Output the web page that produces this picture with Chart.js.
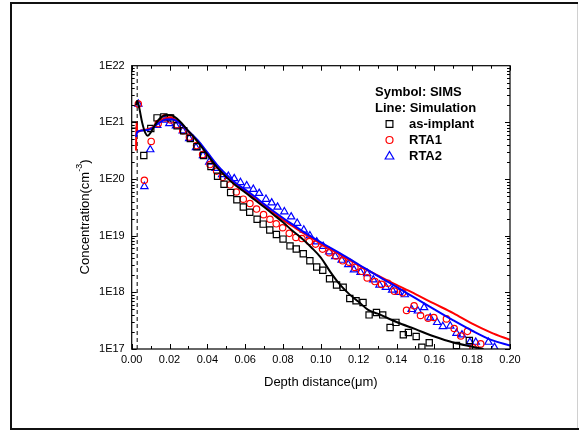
<!DOCTYPE html>
<html>
<head>
<meta charset="utf-8">
<script src="https://cdn.jsdelivr.net/npm/chart.js@4.4.1/dist/chart.umd.min.js"></script>
<style>
    html, body { margin: 0; padding: 0; background: #fff; }
</style>
</head>
<body>
<canvas id="profileChart" width="579" height="430"></canvas>
<script>
// 축 눈금
const xTickValues = [0, 0.02, 0.04, 0.06, 0.08, 0.10, 0.12, 0.14, 0.16, 0.18, 0.20];
const xTickLabels = ['0.00', '0.02', '0.04', '0.06', '0.08', '0.10', '0.12', '0.14', '0.16', '0.18', '0.20'];
const yTickValues = [1e17, 1e18, 1e19, 1e20, 1e21, 1e22];
const yTickLabels = ['1E17', '1E18', '1E19', '1E20', '1E21', '1E22'];

const seriesNames = ['as-implant', 'RTA1', 'RTA2'];
const legendHeader = ['Symbol: SIMS', 'Line: Simulation'];

// SIMS (symbols)
const asImplantX = [0.0012, 0.0064, 0.0101, 0.0134, 0.017, 0.0205, 0.024, 0.0275, 0.031, 0.0345,
    0.038, 0.0419, 0.0454, 0.0488, 0.0523, 0.0556, 0.059, 0.0624, 0.0663, 0.0695,
    0.073, 0.0765, 0.08, 0.0837, 0.087, 0.0907, 0.0942, 0.0978, 0.101, 0.1046,
    0.1083, 0.1118, 0.1153, 0.1186, 0.1223, 0.1255, 0.1294, 0.1327, 0.1366, 0.1397,
    0.1436, 0.1463, 0.1504, 0.1534, 0.1573, 0.1717, 0.1785];
const asImplantY = [9e20, 2.6e20, 7.8e20, 1.2e21, 1.25e21, 1.2e21, 8.7e20, 7.1e20, 5.2e20, 3.7e20,
    2.6e20, 1.66e20, 1.12e20, 8.1e19, 5.8e19, 4.3e19, 3.2e19, 2.6e19, 1.95e19, 1.6e19,
    1.26e19, 1.05e19, 8.7e18, 6.6e18, 5.8e18, 4.8e18, 3.6e18, 2.8e18, 2.45e18, 1.74e18,
    1.35e18, 1.23e18, 7.8e17, 7.1e17, 6.6e17, 4.0e17, 4.4e17, 4.0e17, 2.4e17, 2.95e17,
    1.78e17, 1.95e17, 1.66e17, 1.07e17, 1.29e17, 1.15e17, 1.41e17];

const rta1X = [0.0035, 0.0067, 0.0103, 0.014, 0.0176, 0.0206, 0.024, 0.027, 0.0305, 0.0343,
    0.0375, 0.0414, 0.0449, 0.0481, 0.052, 0.0553, 0.059, 0.0625, 0.066, 0.0697,
    0.0731, 0.0764, 0.0798, 0.0833, 0.0868, 0.0900, 0.0939, 0.0972, 0.1009, 0.1044,
    0.108, 0.1115, 0.115, 0.118, 0.1215, 0.1245, 0.1286, 0.1321, 0.1354, 0.1389,
    0.1432, 0.1453, 0.1493, 0.1527, 0.1567, 0.1597, 0.1664, 0.1705, 0.174, 0.1775,
    0.1805, 0.1845];
const rta1Y = [2.1e21, 9.5e19, 4.6e20, 9.5e20, 1.2e21, 1.1e21, 9.1e20, 7.1e20, 5.5e20, 3.9e20,
    2.7e20, 1.8e20, 1.38e20, 1.07e20, 7.9e19, 5.9e19, 4.4e19, 3.7e19, 2.95e19, 2.35e19,
    1.95e19, 1.62e19, 1.38e19, 1.1e19, 9.3e18, 8.9e18, 7.9e18, 7.1e18, 5.8e18, 5.0e18,
    4.4e18, 3.6e18, 3.4e18, 2.75e18, 2.35e18, 1.8e18, 1.55e18, 1.38e18, 1.45e18, 1.05e18,
    9.8e17, 4.8e17, 5.8e17, 3.9e17, 3.5e17, 3.6e17, 3.4e17, 2.3e17, 1.7e17, 2.05e17,
    1.05e17, 1.23e17];

const rta2X = [0.0035, 0.0067, 0.0098, 0.0135, 0.0176, 0.0199, 0.0234, 0.027, 0.0304, 0.034,
    0.0377, 0.041, 0.0444, 0.0478, 0.0511, 0.0542, 0.0575, 0.0608, 0.0643, 0.0674,
    0.071, 0.074, 0.0771, 0.0807, 0.0843, 0.0875, 0.091, 0.0942, 0.0978, 0.1012,
    0.1044, 0.1076, 0.111, 0.1145, 0.1175, 0.121, 0.1245, 0.1277, 0.131, 0.1344,
    0.1377, 0.1411, 0.1444, 0.148, 0.1513, 0.1546, 0.1578, 0.1615, 0.1645, 0.1684,
    0.1717, 0.1746, 0.1788, 0.1819, 0.1886, 0.1918];
const rta2Y = [2.1e21, 7.4e19, 3.3e20, 8.9e20, 1.1e21, 9.5e20, 8.7e20, 7.1e20, 5.2e20, 3.6e20,
    2.6e20, 2.0e20, 1.55e20, 1.2e20, 1.12e20, 1.02e20, 8.7e19, 7.6e19, 6.6e19, 5.6e19,
    4.4e19, 3.8e19, 3.2e19, 2.65e19, 2.15e19, 1.66e19, 1.26e19, 1.0e19, 7.8e18, 6.5e18,
    5.2e18, 4.3e18, 3.7e18, 3.1e18, 2.5e18, 2.25e18, 2.15e18, 1.66e18, 1.35e18, 1.23e18,
    1.1e18, 1.0e18, 9.1e17, 5.0e17, 4.7e17, 5.4e17, 3.55e17, 2.95e17, 2.5e17, 2.55e17,
    1.9e17, 1.78e17, 1.32e17, 1.32e17, 1.32e17, 1.07e17];

// Simulation (lines)
const simImplantX = [0.0024, 0.0029, 0.004, 0.0055, 0.0072, 0.0085, 0.01, 0.012, 0.015, 0.0185,
    0.021, 0.025, 0.03, 0.035, 0.04, 0.045, 0.05, 0.055, 0.06, 0.065,
    0.07, 0.075, 0.08, 0.085, 0.09, 0.095, 0.1, 0.105, 0.11, 0.115,
    0.12, 0.125, 0.13, 0.14, 0.15, 0.16, 0.17, 0.18, 0.186];
const simImplantY = [2.0e21, 2.4e21, 1.8e21, 1.0e21, 6.5e20, 5.8e20, 6.6e20, 8.6e20, 1.18e21, 1.35e21,
    1.33e21, 1.08e21, 7.0e20, 4.5e20, 2.7e20, 1.62e20, 1.08e20, 7.7e19, 5.8e19, 4.3e19,
    3.2e19, 2.35e19, 1.72e19, 1.22e19, 8.9e18, 6.2e18, 4.1e18, 2.3e18, 1.38e18, 9.3e17,
    6.8e17, 4.9e17, 4.2e17, 3.0e17, 2.24e17, 1.66e17, 1.3e17, 1.1e17, 1.0e17];

const simRta1X = [0.0023, 0.0025, 0.003, 0.005, 0.008, 0.011, 0.014, 0.0175, 0.0205, 0.025,
    0.03, 0.035, 0.04, 0.045, 0.05, 0.055, 0.06, 0.065, 0.07, 0.075,
    0.08, 0.085, 0.09, 0.095, 0.1, 0.11, 0.12, 0.13, 0.14, 0.15,
    0.16, 0.17, 0.18, 0.19, 0.2];
const simRta1Y = [3.2e20, 1.0e21, 6.8e20, 7.2e20, 7.5e20, 8.2e20, 1.0e21, 1.17e21, 1.2e21, 1.0e21,
    6.9e20, 4.6e20, 2.8e20, 1.7e20, 1.15e20, 8.1e19, 6.2e19, 4.6e19, 3.4e19, 2.5e19,
    1.9e19, 1.48e19, 1.15e19, 9.1e18, 7.2e18, 4.7e18, 3.0e18, 2.0e18, 1.35e18, 9.3e17,
    6.3e17, 4.3e17, 2.8e17, 1.95e17, 1.45e17];

const simRta2X = [0.0023, 0.003, 0.006, 0.01, 0.014, 0.018, 0.021, 0.025, 0.03, 0.035,
    0.04, 0.045, 0.05, 0.055, 0.06, 0.065, 0.07, 0.075, 0.08, 0.085,
    0.09, 0.095, 0.1, 0.11, 0.12, 0.13, 0.14, 0.15, 0.16, 0.17,
    0.18, 0.19, 0.2];
const simRta2Y = [5.5e20, 6.8e20, 7.2e20, 7.6e20, 9.6e20, 1.12e21, 1.13e21, 9.9e20, 7.0e20, 4.8e20,
    2.95e20, 1.8e20, 1.2e20, 8.5e19, 6.5e19, 4.9e19, 3.6e19, 2.7e19, 2.05e19, 1.58e19,
    1.22e19, 9.6e18, 7.6e18, 4.9e18, 3.1e18, 1.95e18, 1.25e18, 7.9e17, 5.0e17, 3.2e17,
    2.1e17, 1.45e17, 1.15e17];

// 표면 위치 (점선)
const surfaceX = [0.0029, 0.0029];
const surfaceY = [1e17, 1e22];

const FONT = "'Liberation Sans', Arial, sans-serif";
const toPoints = (xs, ys) => xs.map((x, i) => ({ x: x, y: ys[i] }));

function drawMarker(ctx, style, x, y, r) {
    ctx.beginPath();
    if (style === 'rect') {
        const s = r * Math.SQRT1_2;
        ctx.rect(x - s, y - s, 2 * s, 2 * s);
    } else if (style === 'circle') {
        ctx.arc(x, y, r, 0, Math.PI * 2);
    } else {
        ctx.moveTo(x, y - r);
        ctx.lineTo(x + r * 0.866, y + r / 2);
        ctx.lineTo(x - r * 0.866, y + r / 2);
        ctx.closePath();
    }
    ctx.stroke();
}

// 바깥 테두리
const pageFrame = {
    id: 'pageFrame',
    beforeDraw(chart) {
        const c = chart.ctx;
        c.save();
        c.fillStyle = '#fff';
        c.fillRect(0, 0, chart.width, chart.height);
        c.strokeStyle = '#d0d0d0';
        c.lineWidth = 1;
        c.beginPath();
        c.moveTo(577.5, 2); c.lineTo(577.5, 428);
        c.stroke();
        c.strokeStyle = '#111';
        c.lineWidth = 2;
        c.beginPath();
        c.moveTo(578, 3); c.lineTo(11, 3); c.lineTo(11, 429); c.lineTo(579, 429);
        c.stroke();
        c.restore();
    }
};

// 축 테두리와 안쪽 눈금
const axisFrame = {
    id: 'axisFrame',
    afterDatasetsDraw(chart) {
        const { ctx: c, chartArea: a, scales: { x, y } } = chart;
        c.save();
        c.strokeStyle = '#000';
        c.lineWidth = 1.2;
        c.strokeRect(a.left, a.top, a.right - a.left, a.bottom - a.top);
        c.lineWidth = 1;
        c.beginPath();
        for (let i = 0; i <= 20; i++) {
            const px = Math.round(x.getPixelForValue(i * 0.01)) + 0.5;
            const len = i % 2 === 0 ? 5 : 3;
            c.moveTo(px, a.bottom); c.lineTo(px, a.bottom - len);
            c.moveTo(px, a.top); c.lineTo(px, a.top + len);
        }
        for (let e = 17; e <= 21; e++) {
            for (let m = 1; m <= 9; m++) {
                const py = Math.round(y.getPixelForValue(m * Math.pow(10, e))) + 0.5;
                const len = m === 1 ? 5 : 3;
                c.moveTo(a.left, py); c.lineTo(a.left + len, py);
                c.moveTo(a.right, py); c.lineTo(a.right - len, py);
            }
        }
        c.stroke();
        c.restore();
    }
};

// 축 제목
const axisTitles = {
    id: 'axisTitles',
    afterDraw(chart) {
        const c = chart.ctx;
        const a = chart.chartArea;
        c.save();
        c.fillStyle = '#000';
        c.textBaseline = 'middle';
        c.font = `13px ${FONT}`;
        c.textAlign = 'center';
        c.fillText('Depth distance(\u03bcm)', (a.left + a.right) / 2, 382);

        c.translate(85, 217);
        c.rotate(-Math.PI / 2);
        c.textAlign = 'left';
        const main = 'Concentration(cm';
        const sup = '-3';
        c.font = `13px ${FONT}`;
        const w1 = c.measureText(main).width;
        const w3 = c.measureText(')').width;
        c.font = `9px ${FONT}`;
        const w2 = c.measureText(sup).width;
        let sx = -(w1 + w2 + w3) / 2;
        c.font = `13px ${FONT}`;
        c.fillText(main, sx, 0);
        sx += w1;
        c.font = `9px ${FONT}`;
        c.fillText(sup, sx, -5);
        sx += w2;
        c.font = `13px ${FONT}`;
        c.fillText(')', sx, 0);
        c.restore();
    }
};

// 범례
const legendBox = {
    id: 'legendBox',
    afterDraw(chart) {
        const c = chart.ctx;
        c.save();
        c.fillStyle = '#000';
        c.textBaseline = 'middle';
        c.textAlign = 'left';
        c.font = `bold 13px ${FONT}`;
        c.fillText(legendHeader[0], 375, 92);
        c.fillText(legendHeader[1], 375, 108);
        const styles = ['rect', 'circle', 'triangle'];
        const colors = ['#000', '#ff0000', '#0000ff'];
        const sizes = [4.8, 3.5, 5];
        const rows = [124, 140, 156];
        for (let i = 0; i < 3; i++) {
            c.strokeStyle = colors[i];
            c.lineWidth = 1.2;
            drawMarker(c, styles[i], 389.5, rows[i] + (i === 2 ? 0.5 : 0), sizes[i]);
            c.fillStyle = '#000';
            c.fillText(seriesNames[i], 409, rows[i]);
        }
        c.restore();
    }
};

const profileCtx = document.getElementById('profileChart').getContext('2d');

const simLine = (label, xs, ys, color, order) => ({
    type: 'line',
    label: label,
    data: toPoints(xs, ys),
    borderColor: color,
    borderWidth: 2,
    pointRadius: 0,
    fill: false,
    cubicInterpolationMode: 'monotone',
    order: order,
});

const simsPoints = (label, xs, ys, color, style, radius, order) => ({
    type: 'scatter',
    label: label,
    data: toPoints(xs, ys),
    showLine: false,
    pointStyle: style,
    pointRadius: radius,
    pointBorderWidth: 1.2,
    pointBorderColor: color,
    pointBackgroundColor: 'rgba(0,0,0,0)',
    order: order,
});

const profileChart = new Chart(profileCtx, {
    type: 'scatter',
    data: {
        datasets: [
            simLine('as-implant (sim)', simImplantX, simImplantY, '#000000', 0),
            simLine('RTA2 (sim)', simRta2X, simRta2Y, '#0000ff', 1),
            simLine('RTA1 (sim)', simRta1X, simRta1Y, '#ff0000', 2),
            simsPoints(seriesNames[0], asImplantX, asImplantY, '#000000', 'rect', 4.4, 3),
            simsPoints(seriesNames[1], rta1X, rta1Y, '#ff0000', 'circle', 3.2, 4),
            simsPoints(seriesNames[2], rta2X, rta2Y, '#0000ff', 'triangle', 4.2, 5),
            {
                type: 'line',
                label: 'surface',
                data: toPoints(surfaceX, surfaceY),
                borderColor: '#000',
                borderWidth: 1,
                borderDash: [4, 3],
                pointRadius: 0,
                fill: false,
                order: 10,
            },
        ]
    },
    options: {
        responsive: false,
        animation: false,
        devicePixelRatio: 1,
        events: [],
        layout: {
            padding: { left: 71.7, right: 69, top: 65.7, bottom: 41 }
        },
        plugins: {
            legend: { display: false },
            tooltip: { enabled: false },
        },
        scales: {
            x: {
                type: 'linear',
                min: 0,
                max: 0.2,
                afterFit: (s) => { s.height = 40; },
                afterBuildTicks: (s) => { s.ticks = xTickValues.map(v => ({ value: v })); },
                ticks: {
                    callback: (v, i) => xTickLabels[i],
                    font: { family: FONT, size: 11 },
                    color: '#000',
                    padding: 4,
                    maxRotation: 0,
                    autoSkip: false,
                },
                grid: { display: false, drawTicks: false },
                border: { display: false },
            },
            y: {
                type: 'logarithmic',
                min: 1e17,
                max: 1e22,
                afterFit: (s) => { s.width = 60; },
                afterBuildTicks: (s) => { s.ticks = yTickValues.map(v => ({ value: v })); },
                ticks: {
                    callback: (v, i) => yTickLabels[i],
                    font: { family: FONT, size: 11 },
                    color: '#000',
                    padding: 7,
                    autoSkip: false,
                },
                grid: { display: false, drawTicks: false },
                border: { display: false },
            }
        }
    },
    plugins: [pageFrame, axisFrame, axisTitles, legendBox],
});
</script>
</body>
</html>
